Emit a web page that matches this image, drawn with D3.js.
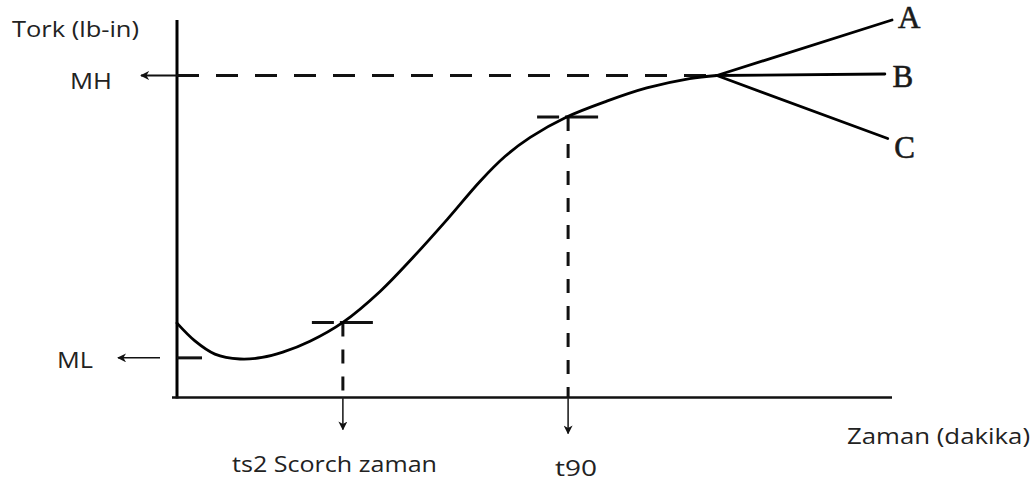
<!DOCTYPE html>
<html>
<head>
<meta charset="utf-8">
<script src="https://cdn.jsdelivr.net/npm/d3@7"></script>
<style>
  body { margin: 0; background: #fff; }
  .lbl { font-family: "Open Sans", sans-serif; fill: #222; }
  .branch { font-family: "Liberation Serif", serif; fill: #1a1a1a; }
</style>
</head>
<body>
<div id="chart"></div>
<script>
// ----------------------------------
// DATA (time and torque in % of axis)
// ----------------------------------
const curveTime   = [0, 2.5, 5.3, 8.8, 11.9, 14.8, 18.6, 23.2, 28.4, 33.0, 37.8, 42.4, 45.9, 49.4, 54.5, 60.1, 65.7, 71.7, 75.5];
const curveTorque = [19.7, 15.0, 11.5, 10.2, 10.6, 12.0, 14.9, 19.9, 28.1, 37.1, 47.2, 57.3, 63.9, 68.9, 74.3, 78.5, 82.0, 84.5, 85.3];

const levelNames  = ['MH', 'ML'];
const levelTorque = [85.3, 10.5];

const markerNames  = ['ts2 Scorch zaman', 't90'];
const markerTime   = [23.2, 54.7];
const markerTorque = [19.9, 74.3];

const branchNames     = ['A', 'B', 'C'];
const branchStartTime = 75.5;
const branchEndTime   = [100, 99, 99.4];
const branchEndTorque = [100, 85.7, 68.6];

const axisTitles = ['Tork (lb-in)', 'Zaman (dakika)'];

// ----------------------------------
// SVG + SCALES
// ----------------------------------
const width = 1033, height = 483;
const svg = d3.select('#chart').append('svg')
	.attr('width', width)
	.attr('height', height);

const xScale = d3.scaleLinear().domain([0, 100]).range([177, 892]);
const yScale = d3.scaleLinear().domain([0, 100]).range([397.5, 20]);

const x0 = xScale(0), y0 = yScale(0);

svg.append('defs').append('marker')
	.attr('id', 'arrow')
	.attr('viewBox', '0 0 10 10')
	.attr('refX', 9).attr('refY', 5)
	.attr('markerWidth', 9).attr('markerHeight', 9)
	.attr('markerUnits', 'userSpaceOnUse')
	.attr('orient', 'auto')
	.append('path')
	.attr('d', 'M0,0 L10,5 L0,10 L3,5 Z')
	.attr('fill', '#111');

// ----------------------------------
// AXES
// ----------------------------------
svg.append('line')
	.attr('x1', x0).attr('x2', x0)
	.attr('y1', yScale(100)).attr('y2', y0 + 1)
	.attr('stroke', '#000').attr('stroke-width', 3);

svg.append('line')
	.attr('x1', x0 - 5).attr('x2', xScale(100))
	.attr('y1', y0).attr('y2', y0)
	.attr('stroke', '#111').attr('stroke-width', 2.6);

// ----------------------------------
// MH / ML LEVELS
// ----------------------------------
// MH: arrow crosses the axis, dashed line runs to where the branches split
svg.append('line')
	.attr('x1', x0).attr('x2', x0 - 36)
	.attr('y1', yScale(levelTorque[0])).attr('y2', yScale(levelTorque[0]))
	.attr('stroke', '#111').attr('stroke-width', 2)
	.attr('marker-end', 'url(#arrow)');

svg.append('line')
	.attr('x1', x0).attr('x2', xScale(branchStartTime))
	.attr('y1', yScale(levelTorque[0])).attr('y2', yScale(levelTorque[0]))
	.attr('stroke', '#111').attr('stroke-width', 3)
	.attr('stroke-dasharray', '22,17');

// ML: short dash from the axis, separate arrow to the left
svg.append('line')
	.attr('x1', x0).attr('x2', xScale(6))
	.attr('y1', yScale(levelTorque[1])).attr('y2', yScale(levelTorque[1]))
	.attr('stroke', '#111').attr('stroke-width', 3)
	.attr('stroke-dasharray', '25,18');

svg.append('line')
	.attr('x1', x0 - 17).attr('x2', x0 - 59)
	.attr('y1', yScale(levelTorque[1])).attr('y2', yScale(levelTorque[1]))
	.attr('stroke', '#111').attr('stroke-width', 1.5)
	.attr('marker-end', 'url(#arrow)');

// ----------------------------------
// TS2 / T90 MARKERS
// ----------------------------------
markerNames.forEach((name, i) => {
	const mx = xScale(markerTime[i]),
		  my = yScale(markerTorque[i]);

	svg.append('line')
		.attr('x1', mx - 31).attr('x2', mx + 30)
		.attr('y1', my).attr('y2', my)
		.attr('stroke', '#111').attr('stroke-width', 3)
		.attr('stroke-dasharray', '22,6,60');

	svg.append('line')
		.attr('x1', mx).attr('x2', mx)
		.attr('y1', my).attr('y2', y0)
		.attr('stroke', '#111').attr('stroke-width', 3)
		.attr('stroke-dasharray', '14,13');

	svg.append('line')
		.attr('x1', mx).attr('x2', mx)
		.attr('y1', y0).attr('y2', y0 + 32 + i * 4)
		.attr('stroke', '#222').attr('stroke-width', 1.6)
		.attr('marker-end', 'url(#arrow)');
});

// ----------------------------------
// CURE CURVE + BRANCHES
// ----------------------------------
const curveData = curveTime.map((t, i) => ({t: t, v: curveTorque[i]}));

const line = d3.line()
	.x(d => xScale(d.t))
	.y(d => yScale(d.v))
	.curve(d3.curveCatmullRom.alpha(0.5));

svg.append('path')
	.datum(curveData)
	.attr('d', line)
	.attr('fill', 'none')
	.attr('stroke', '#000')
	.attr('stroke-width', 2.8)
	.attr('stroke-linecap', 'round');

const branchStart = curveTorque[curveTorque.length - 1];

branchNames.forEach((name, i) => {
	const sx = xScale(branchStartTime), sy = yScale(branchStart),
		  ex = xScale(branchEndTime[i]), ey = yScale(branchEndTorque[i]);

	svg.append('line')
		.attr('x1', sx).attr('y1', sy)
		.attr('x2', ex).attr('y2', ey)
		.attr('stroke', '#000').attr('stroke-width', 2.8)
		.attr('stroke-linecap', 'round');

	// label sits a little further along the branch direction
	const len = Math.hypot(ex - sx, ey - sy),
		  dx = (ex - sx) / len, dy = (ey - sy) / len;

	svg.append('text')
		.attr('class', 'branch')
		.attr('x', ex + 18 * dx)
		.attr('y', ey + 18 * dy + 3)
		.attr('text-anchor', 'middle')
		.attr('dominant-baseline', 'central')
		.attr('font-size', 31)
		.attr('stroke', '#1a1a1a').attr('stroke-width', 0.6)
		.text(name);
});

// ----------------------------------
// TEXT LABELS
// ----------------------------------
function label(txt, x, y, w, size){
	svg.append('text')
		.attr('class', 'lbl')
		.attr('x', x).attr('y', y)
		.attr('font-size', size)
		.attr('textLength', w)
		.attr('lengthAdjust', 'spacingAndGlyphs')
		.text(txt);
}

label(axisTitles[0], 12, 37, 127, 21);
label(axisTitles[1], 847, 444, 183, 21);
label(levelNames[0], 70, 89, 42, 22);
label(levelNames[1], 57, 368, 36, 22);
label(markerNames[0], 232, 472, 205, 22);
label(markerNames[1], 555, 476, 42, 22);
</script>
</body>
</html>
